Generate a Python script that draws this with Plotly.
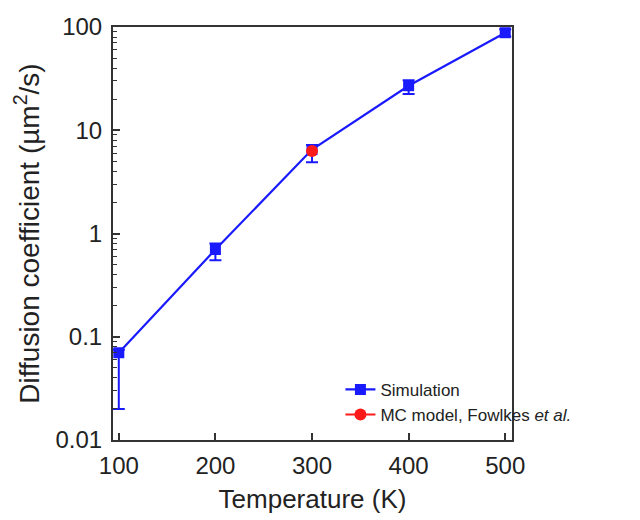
import plotly.graph_objects as go

temps = [100, 200, 300, 400, 500]
diff_sim = [0.07, 0.70, 6.5, 27, 88]
err_plus = [0.005, 0.10, 0.7, 3.5, 7]
err_minus = [0.05, 0.15, 1.6, 4.5, 7]

mc_temp = [300]
mc_diff = [6.3]

x_ticks = [100, 200, 300, 400, 500]
y_ticks = [0.01, 0.1, 1, 10, 100]
y_tick_text = ["0.01", "0.1", "1", "10", "100"]
y_minor = [m * d for d in [0.01, 0.1, 1, 10] for m in range(2, 10)]

blue = "#1a1aff"
red = "#ff1a1a"
font = "Liberation Sans, Arial, sans-serif"

fig = go.Figure()
fig.add_trace(go.Scatter(
    x=temps, y=diff_sim, mode="lines+markers", name="Simulation",
    line=dict(color=blue, width=2.2),
    marker=dict(symbol="square", size=11, color=blue),
    error_y=dict(type="data", symmetric=False, array=err_plus, arrayminus=err_minus,
                 color=blue, thickness=2, width=6),
))
fig.add_trace(go.Scatter(
    x=mc_temp, y=mc_diff, mode="lines+markers",
    name="MC model, Fowlkes <i>et al.</i>\u00a0",
    line=dict(color=red, width=2.2),
    marker=dict(symbol="circle", size=12, color=red),
))

axis_common = dict(
    showline=True, linecolor="#333333", linewidth=2, mirror=True,
    ticks="inside", tickcolor="#333333", tickwidth=1.5, ticklen=7,
    showgrid=False, zeroline=False, automargin=False,
    tickfont=dict(family=font, size=24, color="#222222"),
)

fig.update_layout(
    width=640, height=520,
    margin=dict(l=105, r=136, t=19, b=88),
    paper_bgcolor="white", plot_bgcolor="white",
    font=dict(family=font, color="#222222"),
    xaxis=dict(range=[94, 507], tickvals=x_ticks, ticklabelstandoff=3,
               title=dict(text="Temperature (K)", font=dict(family=font, size=26), standoff=12),
               **axis_common),
    yaxis=dict(type="log", range=[-2, 2], tickvals=y_ticks, ticktext=y_tick_text,
               ticklabelstandoff=4,
               title=dict(text="Diffusion coefficient (µm<sup>2</sup>/s)", font=dict(family=font, size=28), standoff=8),
               minor=dict(ticks="inside", ticklen=4, tickcolor="#333333", tickwidth=1.2,
                          tickvals=y_minor, showgrid=False),
               **axis_common),
    legend=dict(x=0.57, y=0.165, xanchor="left", yanchor="top",
                bgcolor="rgba(0,0,0,0)", font=dict(family=font, size=17, color="#222222"),
                tracegroupgap=0, itemwidth=30),
    showlegend=True,
)

fig.write_html("out.html")
